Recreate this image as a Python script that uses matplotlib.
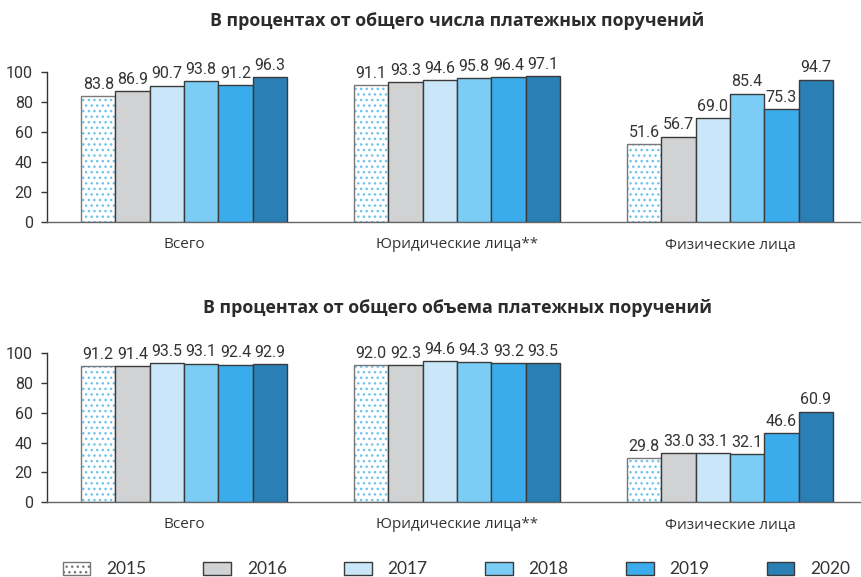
import matplotlib.pyplot as plt
from matplotlib.patches import Patch

# Данные
cats = ['Всего', 'Юридические лица**', 'Физические лица']
years = ['2015', '2016', '2017', '2018', '2019', '2020']
count_share = [
    [83.8, 91.1, 51.6],
    [86.9, 93.3, 56.7],
    [90.7, 94.6, 69.0],
    [93.8, 95.8, 85.4],
    [91.2, 96.4, 75.3],
    [96.3, 97.1, 94.7],
]
volume_share = [
    [91.2, 92.0, 29.8],
    [91.4, 92.3, 33.0],
    [93.5, 94.6, 33.1],
    [93.1, 94.3, 32.1],
    [92.4, 93.2, 46.6],
    [92.9, 93.5, 60.9],
]
titles = ['В процентах от общего числа платежных поручений',
          'В процентах от общего объема платежных поручений']

colors = ['white', '#d1d2d4', '#c9e7f9', '#7ccdf5', '#3aacec', '#2a7fb4']
edge = '#3a3a3a'
dots = '#6cc3ec'
txt = '#333333'
num_font = 'Roboto'

w = 0.1257

fig = plt.figure(figsize=(8.61, 5.77), dpi=100)


def draw(ax, data, title, pad):
    x = range(len(cats))
    for i, vals in enumerate(data):
        pos = [c + (i - 2.5) * w for c in x]
        if i == 0:
            ax.bar(pos, vals, w, color='white', edgecolor=dots, hatch='...',
                   linewidth=0, zorder=2)
            ax.bar(pos, vals, w, fill=False, edgecolor='#777777',
                   linewidth=1.0, zorder=3)
        else:
            ax.bar(pos, vals, w, color=colors[i], edgecolor=edge,
                   linewidth=1.0, zorder=3)
        for p, v in zip(pos, vals):
            ax.annotate(f'{v:.1f}', (p, v), xytext=(0, 3),
                        textcoords='offset points', ha='center', va='bottom',
                        fontsize=11.5, color=txt, family=num_font)
    ax.set_xlim(-0.503, 2.476)
    ax.set_ylim(0, 100)
    ax.set_yticks([0, 20, 40, 60, 80, 100])
    ax.set_xticks([])
    for lab_x, lab in zip(x, cats):
        ax.text(lab_x, -15, lab, ha='center', va='center', fontsize=11,
                color=txt, family='Open Sans')
    for s in ['top', 'right']:
        ax.spines[s].set_visible(False)
    ax.spines['left'].set_color('#333333')
    ax.spines['bottom'].set_color('#666666')
    ax.spines['left'].set_linewidth(1.0)
    ax.spines['bottom'].set_linewidth(1.0)
    ax.tick_params(axis='y', length=4, width=1.0, color='#333333',
                   labelsize=11.5, labelcolor=txt, pad=6)
    for t in ax.get_yticklabels():
        t.set_family(num_font)
    ax.set_title(title, fontsize=12.8, fontweight='bold', color='#2b2b2b',
                 family='Open Sans', x=0.505, y=1.0, pad=pad)


ax1 = fig.add_axes([0.0542, 0.6158, 0.9446, 0.26])
draw(ax1, count_share, titles[0], 33)
ax2 = fig.add_axes([0.0542, 0.1295, 0.9446, 0.2582])
draw(ax2, volume_share, titles[1], 29)

# Легенда
handles = [Patch(facecolor='white', edgecolor=dots, hatch='...')]
handles += [Patch(facecolor=c, edgecolor=edge) for c in colors[1:]]
leg = fig.legend(handles, years, ncol=6, loc='center',
                 bbox_to_anchor=(0.53, 0.013), frameon=False,
                 handlelength=1.6, handleheight=0.75,
                 handletextpad=0.9, columnspacing=3.3,
                 prop={'family': 'Lato', 'size': 12.5})
for t in leg.get_texts():
    t.set_color(txt)
leg.get_patches()[0].set_edgecolor('#777777')

fig.savefig('out.png', dpi=100)
